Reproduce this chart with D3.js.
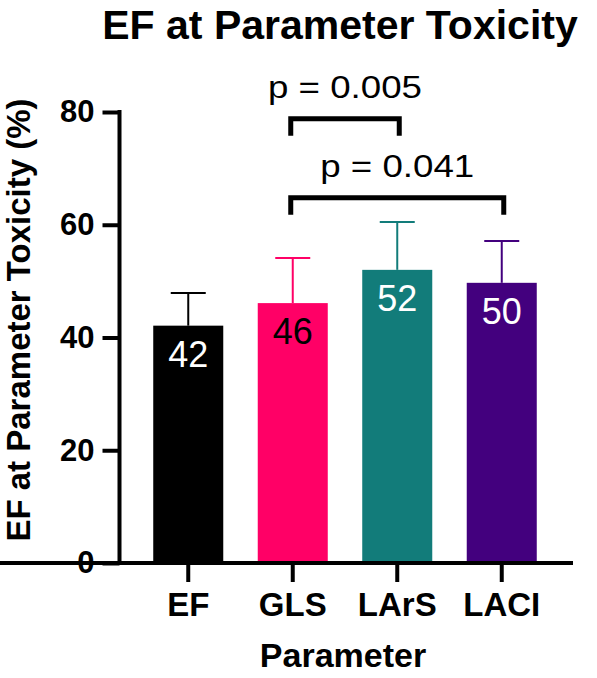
<!DOCTYPE html>
<html>
<head>
<meta charset="utf-8">
<script src="https://cdn.jsdelivr.net/npm/d3@7"></script>
<style>
  body { margin: 0; background: #fff; }
  svg { display: block; font-family: 'Liberation Sans', Arial, sans-serif; }
</style>
</head>
<body>
<svg id="chart"></svg>
<script>
const categories = ['EF', 'GLS', 'LArS', 'LACI'];
const means = [42.1, 46.1, 52.0, 49.7];
const sds = [5.8, 8.0, 8.5, 7.4];
const barColors = ['#000000', '#FF0066', '#127C7A', '#43007E'];
const labelColors = ['#ffffff', '#000000', '#ffffff', '#ffffff'];
const yTicks = [0, 20, 40, 60, 80];
const comparisons = [
  { from: 'GLS', to: 'LArS', level: 78.8, text: 'p = 0.005' },
  { from: 'GLS', to: 'LACI', level: 64.8, text: 'p = 0.041' }
];

const WIDTH = 597;
const HEIGHT = 678;
const FONT = "'Liberation Sans', Arial, sans-serif";

const svg = d3.select('#chart')
  .attr('width', WIDTH)
  .attr('height', HEIGHT);

const data = categories.map((c, i) => ({
  cat: c, mean: means[i], sd: sds[i], color: barColors[i], label: labelColors[i]
}));

// Scales
const x = d3.scaleBand()
  .domain(categories)
  .range([136, 554])
  .paddingInner(0.33)
  .paddingOuter(0.165);

const y = d3.scaleLinear().domain([0, 80]).range([563, 112]);

// Bars
svg.append('g')
  .selectAll('rect')
  .data(data)
  .join('rect')
  .attr('x', d => x(d.cat))
  .attr('y', d => y(d.mean))
  .attr('width', x.bandwidth())
  .attr('height', d => y(0) - y(d.mean))
  .style('fill', d => d.color);

// Error bars (upper only)
const err = svg.append('g')
  .selectAll('g')
  .data(data)
  .join('g')
  .style('stroke', d => d.color)
  .style('stroke-width', 2);

err.append('line')
  .attr('x1', d => x(d.cat) + x.bandwidth() / 2)
  .attr('x2', d => x(d.cat) + x.bandwidth() / 2)
  .attr('y1', d => y(d.mean))
  .attr('y2', d => y(d.mean + d.sd));

err.append('line')
  .attr('x1', d => x(d.cat) + x.bandwidth() / 4)
  .attr('x2', d => x(d.cat) + x.bandwidth() * 3 / 4)
  .attr('y1', d => y(d.mean + d.sd))
  .attr('y2', d => y(d.mean + d.sd));

// Value labels inside bars
svg.append('g')
  .selectAll('text')
  .data(data)
  .join('text')
  .attr('x', d => x(d.cat) + x.bandwidth() / 2)
  .attr('y', d => y(d.mean) + 41)
  .attr('text-anchor', 'middle')
  .style('font-size', '36px')
  .style('fill', d => d.label)
  .text(d => Math.round(d.mean));

// Y axis
const yAxis = svg.append('g')
  .attr('transform', 'translate(119.5,0)')
  .call(d3.axisLeft(y).tickValues(yTicks).tickSize(17).tickPadding(8));

// X axis
const xAxis = svg.append('g')
  .attr('transform', `translate(0,${y(0)})`)
  .call(d3.axisBottom(x).tickSize(19).tickPadding(10));

[yAxis, xAxis].forEach(ax => {
  ax.select('.domain').style('stroke', '#000').style('stroke-width', 4);
  ax.selectAll('.tick line').style('stroke', '#000').style('stroke-width', 4);
  ax.selectAll('.tick text')
    .style('font-family', FONT)
    .style('font-weight', 'bold')
    .style('fill', '#000');
});
yAxis.select('.domain').attr('d', `M0,${y(0) + 2}V${y(80) - 2}`);
xAxis.select('.domain').attr('d', `M-2,0H573`);
yAxis.selectAll('.tick text').style('font-size', '31px');
xAxis.selectAll('.tick text').style('font-size', '33px').attr('dy', '0.72em');

// Significance brackets
const br = svg.append('g')
  .selectAll('g')
  .data(comparisons)
  .join('g');

br.append('path')
  .attr('d', d => {
    const x1 = x(d.from) + x.bandwidth() / 2 - 2;
    const x2 = x(d.to) + x.bandwidth() / 2 + 2;
    const yy = y(d.level);
    return `M${x1},${yy + 17}V${yy}H${x2}V${yy + 17}`;
  })
  .style('fill', 'none')
  .style('stroke', '#000')
  .style('stroke-width', 5);

br.append('text')
  .attr('x', d => (x(d.from) + x(d.to) + x.bandwidth()) / 2)
  .attr('y', d => y(d.level) - 21)
  .attr('text-anchor', 'middle')
  .attr('textLength', 154)
  .attr('lengthAdjust', 'spacingAndGlyphs')
  .style('font-size', '32px')
  .style('fill', '#000')
  .text(d => d.text);

// Title and axis titles
svg.append('text')
  .attr('x', 340)
  .attr('y', 39)
  .attr('text-anchor', 'middle')
  .style('font-size', '41px')
  .style('font-weight', 'bold')
  .text('EF at Parameter Toxicity');

svg.append('text')
  .attr('x', 343)
  .attr('y', 667)
  .attr('text-anchor', 'middle')
  .style('font-size', '34px')
  .style('font-weight', 'bold')
  .text('Parameter');

svg.append('text')
  .attr('transform', 'translate(30,320) rotate(-90)')
  .attr('text-anchor', 'middle')
  .style('font-size', '33px')
  .style('font-weight', 'bold')
  .text('EF at Parameter Toxicity (%)');
</script>
</body>
</html>
